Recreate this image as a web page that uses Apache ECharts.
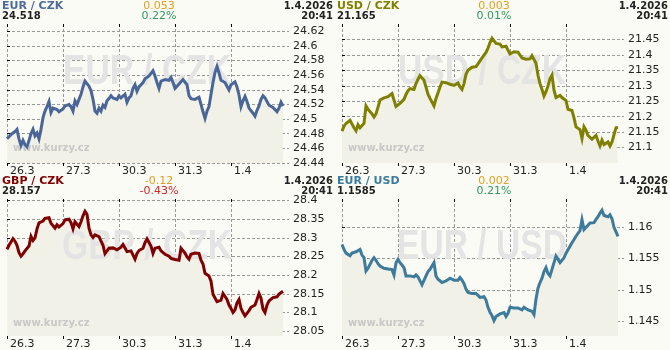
<!DOCTYPE html>
<html><head><meta charset="utf-8">
<script src="https://cdn.jsdelivr.net/npm/echarts@6/dist/echarts.min.js"></script>
<style>html,body{margin:0;padding:0;background:#fbfbf6}#c{width:670px;height:350px}</style>
</head><body><div id="c"></div>
<script>
const dayLabels = ['26.3', '27.3', '30.3', '31.3', '1.4'];
const dayTicks = [0, 28, 56, 84, 112];

const eurCzk = [24.473,24.476,24.479,24.480,24.483,24.486,24.473,24.464,24.471,24.465,24.462,24.471,24.480,24.486,24.477,24.481,24.473,24.486,24.502,24.511,24.517,24.524,24.509,24.515,24.514,24.513,24.510,24.509,
24.514,24.518,24.516,24.520,24.517,24.511,24.525,24.520,24.527,24.534,24.544,24.552,24.553,24.545,24.539,24.527,24.511,24.508,24.515,24.511,24.519,24.516,24.525,24.528,24.532,24.529,24.530,24.527,
24.532,24.529,24.527,24.534,24.523,24.529,24.532,24.542,24.547,24.538,24.544,24.544,24.550,24.555,24.554,24.559,24.561,24.566,24.559,24.550,24.542,24.552,24.553,24.554,24.555,24.553,24.557,24.550,
24.542,24.545,24.546,24.551,24.554,24.552,24.547,24.532,24.528,24.529,24.527,24.525,24.530,24.520,24.510,24.501,24.511,24.517,24.534,24.550,24.564,24.572,24.563,24.553,24.554,24.550,24.545,24.540,
24.547,24.546,24.551,24.544,24.533,24.517,24.525,24.531,24.524,24.515,24.517,24.508,24.504,24.512,24.518,24.527,24.532,24.529,24.527,24.519,24.517,24.516,24.514,24.510,24.515,24.523,24.518];

const usdCzk = [21.153,21.169,21.178,21.184,21.188,21.192,21.164,21.154,21.174,21.164,21.161,21.178,21.235,21.224,21.227,21.209,21.199,21.209,21.231,21.254,21.249,21.261,21.256,21.265,21.270,21.275,21.277,21.233,
21.238,21.243,21.245,21.256,21.272,21.284,21.291,21.294,21.288,21.307,21.321,21.333,21.337,21.318,21.296,21.273,21.259,21.265,21.235,21.259,21.277,21.296,21.312,21.311,21.310,21.307,21.305,21.307,
21.301,21.305,21.309,21.296,21.288,21.307,21.337,21.350,21.355,21.360,21.356,21.362,21.371,21.376,21.390,21.390,21.408,21.422,21.440,21.454,21.458,21.437,21.432,21.435,21.426,21.430,21.428,21.432,
21.403,21.400,21.410,21.415,21.409,21.403,21.390,21.384,21.386,21.381,21.387,21.397,21.403,21.373,21.334,21.307,21.288,21.267,21.281,21.299,21.323,21.335,21.286,21.262,21.267,21.269,21.262,21.258,
21.252,21.224,21.218,21.220,21.196,21.167,21.169,21.158,21.129,21.167,21.156,21.139,21.142,21.127,21.124,21.139,21.121,21.105,21.124,21.110,21.116,21.118,21.105,21.118,21.142,21.164,21.165];

const gbpCzk = [28.269,28.280,28.289,28.298,28.291,28.280,28.260,28.251,28.257,28.265,28.269,28.278,28.304,28.293,28.300,28.324,28.340,28.338,28.345,28.352,28.357,28.354,28.339,28.336,28.326,28.335,28.329,28.330,
28.338,28.348,28.343,28.350,28.341,28.324,28.343,28.346,28.330,28.343,28.359,28.371,28.363,28.326,28.308,28.301,28.308,28.303,28.303,28.298,28.280,28.258,28.265,28.272,28.270,28.273,28.273,28.268,
28.268,28.275,28.282,28.273,28.263,28.261,28.265,28.263,28.243,28.258,28.266,28.269,28.272,28.287,28.297,28.301,28.278,28.258,28.272,28.272,28.275,28.265,28.260,28.256,28.252,28.251,28.245,28.245,
28.242,28.243,28.240,28.272,28.269,28.259,28.249,28.243,28.256,28.258,28.259,28.256,28.258,28.240,28.230,28.205,28.202,28.198,28.184,28.149,28.149,28.129,28.129,28.133,28.151,28.152,28.135,28.120,
28.111,28.100,28.107,28.126,28.135,28.111,28.100,28.091,28.089,28.105,28.114,28.109,28.120,28.135,28.151,28.138,28.109,28.100,28.120,28.131,28.135,28.140,28.138,28.142,28.149,28.149,28.157];

const eurUsd = [1.15723,1.15644,1.15586,1.15586,1.15544,1.15586,1.15576,1.15607,1.15607,1.15644,1.15555,1.15513,1.15303,1.15345,1.15408,1.15471,1.15513,1.15471,1.15418,1.15382,1.15408,1.15345,1.15345,1.15334,1.15303,1.15324,1.15240,1.15434,
1.15487,1.15434,1.15397,1.15355,1.15224,1.15250,1.15224,1.15240,1.15208,1.15240,1.15208,1.15145,1.15082,1.15067,1.15224,1.15292,1.15329,1.15329,1.15434,1.15224,1.15172,1.15145,1.15119,1.15135,1.15145,1.15156,1.15187,1.15156,
1.15156,1.15187,1.15156,1.15198,1.15156,1.15103,1.15014,1.14962,1.14977,1.14946,1.14956,1.14946,1.14936,1.14883,1.14873,1.14893,1.14841,1.14726,1.14647,1.14594,1.14516,1.14579,1.14579,1.14621,1.14600,1.14642,1.14579,1.14631,
1.14726,1.14699,1.14715,1.14684,1.14715,1.14699,1.14684,1.14726,1.14699,1.14684,1.14699,1.14663,1.14610,1.14857,1.15030,1.15119,1.15187,1.15292,1.15355,1.15261,1.15224,1.15250,1.15434,1.15539,1.15487,1.15434,1.15450,1.15513,
1.15586,1.15639,1.15696,1.15749,1.15801,1.15854,1.15901,1.15943,1.16116,1.15959,1.15995,1.16027,1.16064,1.16090,1.16069,1.16121,1.16163,1.16221,1.16268,1.16184,1.16205,1.16163,1.16195,1.16132,1.15995,1.15922,1.15850];

const eurCzkTicks = [24.44, 24.46, 24.48, 24.5, 24.52, 24.54, 24.56, 24.58, 24.6, 24.62];
const usdCzkTicks = [21.1, 21.15, 21.2, 21.25, 21.3, 21.35, 21.4, 21.45];
const gbpCzkTicks = [28.05, 28.1, 28.15, 28.2, 28.25, 28.3, 28.35, 28.4];
const eurUsdTicks = [1.145, 1.15, 1.155, 1.16];

const titles = ['EUR / CZK', 'USD / CZK', 'GBP / CZK', 'EUR / USD'];
const lastValues = ['24.518', '21.165', '28.157', '1.1585'];
const changes = ['0.053', '0.003', '-0.12', '0.002'];
const changePct = ['0.22%', '0.01%', '-0.43%', '0.21%'];
const dateText = '1.4.2026';
const timeText = '20:41';

const panels = [
  {data: eurCzk, ticks: eurCzkTicks, min: 24.44, max: 24.63, ox: 0, oy: 0, color: '#4a6699', tcolor: '#4d6b9c', pcolor: '#2e9a5e'},
  {data: usdCzk, ticks: usdCzkTicks, min: 21.05, max: 21.50, ox: 335, oy: 0, color: '#808000', tcolor: '#808000', pcolor: '#2e9a5e'},
  {data: gbpCzk, ticks: gbpCzkTicks, min: 28.037, max: 28.404, ox: 0, oy: 175, color: '#800000', tcolor: '#800000', pcolor: '#cc2a2a'},
  {data: eurUsd, ticks: eurUsdTicks, min: 1.1427, max: 1.16445, ox: 335, oy: 175, color: '#3d7a9c', tcolor: '#3a7ca0', pcolor: '#2e9a5e'}
];

const FONT = '"DejaVu Sans", Verdana, sans-serif';
const grid = [], xAxis = [], yAxis = [], series = [], graphic = [];
const dash = {color: '#9a9a9a', width: 1, type: [3, 2]};
const fmt = v => String(parseFloat(Number(v).toFixed(5)));

panels.forEach((p, k) => {
  grid.push({left: p.ox + 7, top: p.oy + 24, width: 282, height: 139});
  xAxis.push({
    type: 'value', gridIndex: k, min: 0, max: 141, position: 'bottom',
    axisLine: {show: false},
    axisTick: {show: true, length: 3, lineStyle: {color: '#000'}, customValues: dayTicks},
    axisLabel: {customValues: dayTicks, formatter: v => dayLabels[Math.round(v / 28)], align: 'left', padding: [0, 0, 0, 3], margin: 3, color: '#222', fontFamily: FONT, fontSize: 11},
    splitLine: {show: true, lineStyle: dash}
  });
  xAxis.push({
    type: 'value', gridIndex: k, min: 0, max: 141, position: 'top',
    axisLine: {show: false},
    axisTick: {show: true, inside: true, length: 3, lineStyle: {color: '#000'}, customValues: dayTicks},
    axisLabel: {show: false}, splitLine: {show: false}
  });
  yAxis.push({
    type: 'value', gridIndex: k, min: p.min, max: p.max, position: 'right',
    axisLine: {show: false},
    axisTick: {show: true, length: 3, lineStyle: {color: '#000'}, customValues: p.ticks},
    axisLabel: {customValues: p.ticks, formatter: fmt, margin: 4, color: '#222', fontFamily: FONT, fontSize: 11},
    splitLine: {show: true, lineStyle: dash}
  });
  const pts = p.data.map((v, i) => [i, v]);
  series.push({
    type: 'line', xAxisIndex: 2 * k, yAxisIndex: k, data: pts, showSymbol: false, silent: true, z: 1,
    lineStyle: {width: 0}, areaStyle: {color: '#f1f1e8', origin: 'start', opacity: 1}
  });
  series.push({
    type: 'line', xAxisIndex: 2 * k, yAxisIndex: k, data: pts, showSymbol: false, silent: true, z: 3,
    lineStyle: {width: 3, color: p.color, join: 'miter'}
  });
  graphic.push({type: 'text', z: 2, x: p.ox + 147, y: p.oy + 72, scaleX: 0.8, silent: true,
    style: {text: titles[k], font: 'bold 42px "Liberation Sans", Arial, sans-serif', fill: '#e4e4e4', textAlign: 'center', textVerticalAlign: 'middle'}});
  graphic.push({type: 'text', z: 2, x: p.ox + 13, y: p.oy + 148.5, silent: true,
    style: {text: 'www.kurzy.cz', font: 'bold 10px ' + FONT, fill: '#c8c8c8', textAlign: 'left', textVerticalAlign: 'middle'}});
  graphic.push({type: 'text', z: 5, x: p.ox + 2, y: p.oy + 6, silent: true,
    style: {text: titles[k], font: 'bold 11px ' + FONT, fill: p.tcolor, textAlign: 'left', textVerticalAlign: 'middle'}});
  graphic.push({type: 'text', z: 5, x: p.ox + 2, y: p.oy + 16.5, silent: true,
    style: {text: lastValues[k], font: 'bold 10px ' + FONT, fill: '#222', textAlign: 'left', textVerticalAlign: 'middle'}});
  graphic.push({type: 'text', z: 5, x: p.ox + 159, y: p.oy + 6, silent: true,
    style: {text: changes[k], font: '11px ' + FONT, fill: '#e0a020', textAlign: 'center', textVerticalAlign: 'middle'}});
  graphic.push({type: 'text', z: 5, x: p.ox + 159, y: p.oy + 16.5, silent: true,
    style: {text: changePct[k], font: '11px ' + FONT, fill: p.pcolor, textAlign: 'center', textVerticalAlign: 'middle'}});
  graphic.push({type: 'text', z: 5, x: p.ox + 333, y: p.oy + 6, silent: true,
    style: {text: dateText, font: 'bold 10px ' + FONT, fill: '#222', textAlign: 'right', textVerticalAlign: 'middle'}});
  graphic.push({type: 'text', z: 5, x: p.ox + 333, y: p.oy + 16.5, silent: true,
    style: {text: timeText, font: 'bold 10px ' + FONT, fill: '#222', textAlign: 'right', textVerticalAlign: 'middle'}});
});

const chart = echarts.init(document.getElementById('c'), null, {renderer: 'canvas'});
chart.setOption({
  animation: false,
  backgroundColor: '#fbfbf6',
  grid, xAxis, yAxis, series, graphic
});
</script></body></html>
